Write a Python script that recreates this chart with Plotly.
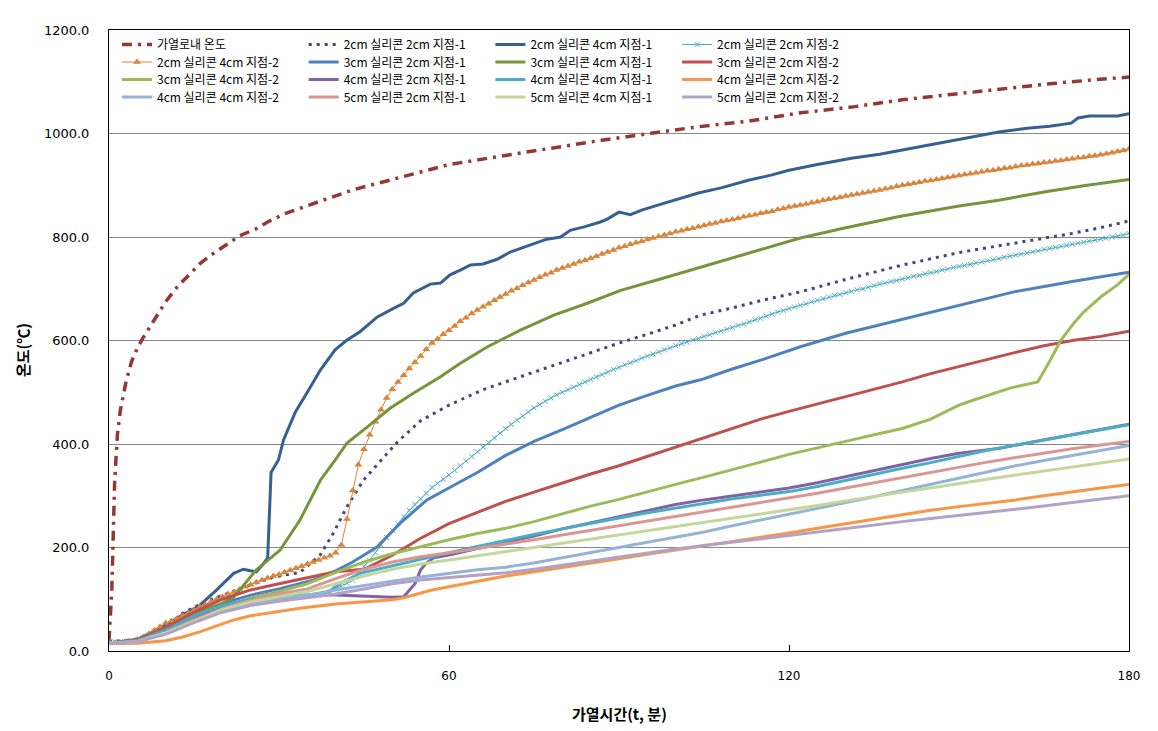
import plotly.graph_objects as go

# ---------------- data (minutes, deg C) ----------------
t5 = list(range(0, 181, 5))
t1 = list(range(0, 181))

names = [
    "가열로내 온도", "2cm 실리콘 2cm 지점-1", "2cm 실리콘 4cm 지점-1", "2cm 실리콘 2cm 지점-2",
    "2cm 실리콘 4cm 지점-2", "3cm 실리콘 2cm 지점-1", "3cm 실리콘 4cm 지점-1", "3cm 실리콘 2cm 지점-2",
    "3cm 실리콘 4cm 지점-2", "4cm 실리콘 2cm 지점-1", "4cm 실리콘 4cm 지점-1", "4cm 실리콘 2cm 지점-2",
    "4cm 실리콘 4cm 지점-2", "5cm 실리콘 2cm 지점-1", "5cm 실리콘 4cm 지점-1", "5cm 실리콘 2cm 지점-2",
]

furnace_t = [0, 0.5, 1, 1.5, 2, 3, 4, 5, 6, 7, 8, 10, 12, 14, 16, 18, 20, 23, 26, 28, 31, 34, 38, 43,
             51, 60, 69, 78, 87, 96, 104, 113, 122, 131, 140, 149, 157, 166, 173, 180]
furnace_v = [20, 120, 330, 420, 465, 520, 560, 585, 605, 622, 640, 675, 703, 726, 748, 765, 780, 802,
             816, 829, 845, 857, 872, 891, 914, 940, 956, 972, 987, 1001, 1013, 1024, 1040, 1051, 1065,
             1076, 1086, 1096, 1103, 1109]

s2c2c1_t = [0, 5, 10, 13, 17, 21, 25, 29, 33.7, 37.3, 39.6, 42, 44.9, 47.9, 51, 55, 60, 62, 66, 72.6,
            80, 86.7, 90, 95, 100, 104.4, 110, 115, 122, 130, 139.7, 150, 159.7, 170, 175, 180]
s2c2c1_v = [18, 22, 45, 73, 95, 112, 128, 143, 152, 186, 228, 279, 330, 367, 405, 445, 475, 485, 505, 530,
            558, 583, 595, 612, 630, 649, 663, 677, 694, 718, 745, 770, 788, 807, 818, 831]

s2c4c1_t = [0, 5, 10, 13, 16, 19, 22, 23.7, 25, 26, 27, 28, 28.6, 29.9, 30.8, 32.9, 35, 37.3, 39.9, 42,
            44.3, 47.3, 50.2, 52, 53.7, 56.7, 58.5, 60.2, 62, 63.8, 66, 68.5, 70.8, 73, 75.6, 77, 79.7,
            81.4, 84, 86.7, 88, 90, 92, 94, 97, 100, 104, 108, 113, 117, 120, 125, 131, 136, 140, 145,
            149, 153, 157, 162, 166, 169.8, 171, 173, 178, 180]
s2c4c1_v = [15, 22, 50, 70, 88, 118, 150, 158, 155, 153, 165, 180, 345, 369, 408, 462, 500, 543, 582, 601,
            617, 645, 662, 672, 692, 709, 711, 727, 736, 746, 748, 757, 771, 780, 790, 795, 800,
            813, 820, 829, 835, 848, 843, 852, 862, 872, 885, 895, 910, 920, 929, 940, 952, 960, 968, 978,
            987, 995, 1003, 1010, 1014, 1020, 1030, 1034, 1034, 1038]

s2c2c2_v = [18, 18, 18, 19, 20, 22, 25, 28, 32, 36, 40,
            45, 50, 55, 60, 65, 69, 73, 77, 81, 85,
            87, 89, 91, 93, 95, 96, 97, 98, 99, 100,
            101, 102, 103, 104, 105, 106, 108, 110, 115, 120,
            125, 131, 137, 150, 163, 175, 190, 205, 219, 233,
            246, 259, 272, 283, 294, 305, 316, 324, 332, 340,
            349, 358, 367, 376, 385, 394, 403, 412, 421, 430,
            438, 446, 454, 462, 470, 476, 483, 489, 495, 500,
            505, 510, 515, 520, 525, 530, 534, 539, 544, 548,
            553, 557, 561, 566, 570, 574, 578, 582, 586, 590,
            594, 597, 601, 604, 608, 611, 615, 618, 622, 625,
            629, 632, 636, 640, 643, 647, 651, 655, 658, 662,
            665, 668, 671, 675, 678, 681, 684, 687, 689, 692,
            695, 698, 700, 703, 706, 709, 711, 714, 716, 719,
            721, 724, 726, 729, 731, 733, 736, 738, 741, 743,
            745, 747, 750, 752, 754, 756, 758, 761, 763, 765,
            767, 769, 771, 773, 776, 778, 780, 782, 784, 786,
            788, 790, 792, 794, 796, 798, 800, 802, 804, 807]

s2c4c2_v = [15, 15, 16, 17, 19, 22, 27, 33, 40, 47, 54,
            58, 63, 68, 73, 79, 85, 90, 95, 100, 105,
            110, 114, 119, 124, 128, 133, 137, 141, 145, 148,
            152, 156, 160, 164, 168, 172, 176, 180, 184, 190,
            205, 255, 310, 360, 390, 418, 443, 466, 489, 506,
            520, 533, 546, 558, 570, 583, 595, 603, 612, 620,
            628, 637, 644, 652, 659, 665, 671, 678, 684, 690,
            696, 701, 707, 712, 717, 722, 727, 731, 736, 740,
            744, 748, 752, 755, 759, 763, 767, 771, 775, 779,
            782, 786, 789, 792, 795, 798, 801, 804, 807, 810,
            812, 815, 817, 820, 822, 825, 827, 830, 832, 834,
            836, 839, 841, 843, 846, 848, 850, 853, 855, 858,
            860, 862, 864, 866, 868, 871, 873, 875, 877, 879,
            881, 883, 885, 887, 889, 891, 893, 895, 898, 900,
            902, 904, 906, 908, 909, 911, 913, 915, 917, 919,
            921, 922, 924, 926, 928, 929, 931, 933, 934, 936,
            938, 939, 941, 942, 944, 945, 947, 948, 950, 951,
            953, 954, 956, 957, 959, 961, 963, 965, 967, 970]

s3c2c1_t = [0, 5, 10, 15, 20, 25, 30, 36, 40, 43, 47.3, 51.4, 56.1, 60, 65, 70, 75, 80, 85, 90, 95, 100,
            104.4, 110, 115, 122, 130, 139.7, 150, 159.7, 170, 180]
s3c2c1_v = [15, 22, 45, 72, 92, 108, 120, 137, 155, 172, 201, 247, 292, 315, 345, 378, 405, 428, 452, 475,
            494, 512, 524, 545, 562, 588, 614, 640, 668, 694, 714, 732]

s3c4c1_t = [0, 5, 10, 15, 20, 22, 26, 30.2, 33.7, 37.3, 39.9, 42, 45.6, 49.6, 53.7, 58.5, 62, 66.8, 72.6,
            78.5, 84.4, 90.3, 97, 104.4, 110, 115, 122, 130, 139.7, 150, 157, 165, 172, 180]
s3c4c1_v = [15, 22, 45, 70, 92, 104, 157, 195, 253, 330, 369, 402, 433, 469, 498, 530, 556, 588, 620,
            649, 672, 697, 718, 742, 760, 776, 798, 818, 840, 860, 871, 887, 899, 911]

s3c2c2_v = [15, 22, 45, 75, 100, 118, 130, 142, 153, 158, 185, 218, 246, 268, 289, 307, 325, 342, 358,
            376, 395, 412, 430, 448, 463, 477, 492, 506, 520, 536, 550, 564, 577, 590, 600, 608, 618]

s3c4c2_t = [0, 5, 10, 15, 20, 25, 30, 35, 40, 45, 50, 55, 60, 65, 70, 75, 80, 85, 90, 95, 100, 105, 110,
            115, 120, 125, 130, 135, 140, 145, 150, 152.6, 159, 163.9, 166, 168, 170.3, 172, 175, 178, 180]
s3c4c2_v = [15, 20, 40, 65, 85, 102, 115, 130, 152, 172, 188, 202, 215, 227, 237, 250, 265, 280, 293, 308,
            322, 336, 350, 365, 380, 392, 405, 418, 430, 448, 475, 485, 508, 520, 560, 601, 634, 655, 684,
            708, 728]

s4c2c1_t = [0, 5, 10, 15, 20, 25, 30, 35, 40, 45, 50, 52, 54, 55, 56, 57.3, 60.2, 65, 70, 75, 80, 85, 90,
            95, 100, 105, 110, 115, 120, 125, 130, 135, 140, 145, 150, 157.4, 163, 170, 175, 180]
s4c2c1_v = [15, 20, 40, 65, 85, 97, 105, 108, 108, 106, 104, 105, 130, 157, 170, 180, 186, 198, 210, 222,
            236, 248, 260, 272, 283, 292, 300, 308, 315, 325, 337, 348, 360, 372, 382, 392, 404, 418, 428,
            438]

s4c4c1_t = [0, 5, 10, 15, 20, 25, 30, 35, 38.5, 40.8, 44.3, 50, 55, 60, 65, 70, 75, 80, 85, 90, 95, 100,
            105, 110, 115, 120, 125, 130, 135, 140, 145, 150, 155, 160, 165, 170, 175, 180]
s4c4c1_v = [15, 20, 40, 68, 88, 100, 106, 108, 112, 131, 150, 165, 178, 190, 202, 214, 225, 236, 247, 257,
            267, 276, 285, 294, 301, 308, 318, 330, 342, 353, 364, 376, 388, 398, 408, 418, 427, 437]

s4c2c2_t = [0, 5, 10, 13, 16, 19, 22, 25, 30, 34, 40, 45, 50, 52, 55, 57, 60, 65, 70, 75, 80, 85, 90, 95,
            100, 105, 110, 115, 120, 125, 130, 135, 140, 145, 150, 155, 160, 165, 170, 175, 180]
s4c2c2_v = [14, 15, 20, 27, 37, 48, 60, 68, 77, 83, 91, 95, 99, 103, 112, 118, 124, 135, 145, 153, 161,
            170, 178, 187, 195, 203, 211, 220, 228, 237, 246, 255, 264, 272, 279, 285, 292, 300, 308, 315,
            322]

s4c4c2_v = [15, 18, 35, 58, 78, 92, 100, 108, 118, 127, 135, 143, 150, 157, 162, 170, 180, 190, 200, 210,
            220, 230, 242, 253, 265, 276, 287, 298, 310, 322, 334, 346, 358, 368, 378, 388, 397]
s5c2c1_v = [15, 18, 35, 60, 82, 98, 110, 120, 140, 158, 172, 182, 190, 198, 206, 215, 224, 233, 242, 251,
            260, 268, 277, 286, 295, 305, 315, 325, 336, 346, 356, 365, 374, 383, 391, 398, 405]
s5c4c1_v = [15, 18, 35, 58, 80, 95, 105, 115, 130, 145, 158, 168, 176, 184, 192, 200, 208, 216, 224, 232,
            240, 249, 257, 265, 272, 281, 290, 299, 307, 315, 324, 332, 340, 348, 356, 364, 371]
s5c2c2_v = [15, 18, 32, 55, 75, 88, 96, 103, 110, 120, 130, 137, 142, 147, 151, 158, 166, 174, 182, 190,
            197, 204, 210, 217, 223, 230, 237, 244, 250, 256, 262, 267, 273, 280, 287, 294, 300]

x_ticks = [0, 60, 120, 180]
y_ticks = [0, 200, 400, 600, 800, 1000, 1200]
x_title = "가열시간(t, 분)"
y_title = "온도(℃)"

xs = [furnace_t, s2c2c1_t, s2c4c1_t, t1, t1, s3c2c1_t, s3c4c1_t, t5,
      s3c4c2_t, s4c2c1_t, s4c4c1_t, s4c2c2_t, t5, t5, t5, t5]
ys = [furnace_v, s2c2c1_v, s2c4c1_v, s2c2c2_v, s2c4c2_v, s3c2c1_v, s3c4c1_v, s3c2c2_v,
      s3c4c2_v, s4c2c1_v, s4c4c1_v, s4c2c2_v, s4c4c2_v, s5c2c1_v, s5c4c1_v, s5c2c2_v]

# ---------------- styles ----------------
colors = ["#953735", "#46457F", "#376092", "#4BACC6",
          "#D9853B", "#4F81BD", "#77933C", "#C0504D",
          "#9BBB59", "#8064A2", "#4BACC6", "#F79646",
          "#95B3D7", "#D99694", "#C3D69B", "#B3A2C7"]
widths = [3.5, 3, 3, 1, 1, 3, 3, 3, 3, 3, 3, 3, 3, 3, 3, 3]
dashes = ["10px,6px,3px,6px", "3px,5px"] + ["solid"] * 14

legend_ids = ["legend", "legend2", "legend3", "legend4"]
row_y_px = [44.5, 62, 79.5, 97]

W, H = 1158, 731
L, R, T, B = 109, 29, 30, 80
pw, ph = W - L - R, H - T - B

fig = go.Figure()
for i, name in enumerate(names):
    mode = "lines"
    marker = None
    if i == 3:
        mode = "lines+markers"
        marker = dict(symbol="x-thin", size=5, color=colors[i], line=dict(width=1, color=colors[i]))
    elif i == 4:
        mode = "lines+markers"
        marker = dict(symbol="triangle-up", size=7, color=colors[i], line=dict(width=0))
    fig.add_trace(go.Scatter(
        x=xs[i], y=ys[i], name=name, mode=mode, marker=marker,
        line=dict(color=colors[i], width=widths[i], dash=dashes[i]),
        legend=legend_ids[i // 4],
    ))

leg_font = dict(family="Noto Sans CJK KR", size=12, color="black")
legends = {}
for k, lid in enumerate(legend_ids):
    legends[lid] = dict(
        orientation="h", x=(117 - L) / pw, xanchor="left",
        y=(H - B - row_y_px[k]) / ph, yanchor="middle",
        entrywidth=141.7, entrywidthmode="pixels", itemwidth=30,
        font=leg_font, bgcolor="rgba(0,0,0,0)", borderwidth=0, traceorder="normal",
    )

fig.update_layout(
    width=W, height=H,
    margin=dict(l=L, r=R, t=T, b=B, autoexpand=False),
    paper_bgcolor="white", plot_bgcolor="white",
    showlegend=True,
    **legends,
    xaxis=dict(
        range=[0, 180], tickvals=x_ticks, ticktext=[str(v) for v in x_ticks],
        showgrid=False, zeroline=False, showline=True, linecolor="black", linewidth=1, mirror=True,
        ticks="inside", ticklen=6, tickcolor="black", ticklabelstandoff=14,
        tickfont=dict(family="DejaVu Sans", size=12, color="black"),
    ),
    yaxis=dict(
        range=[0, 1200], tickvals=y_ticks, tickformat=".1f",
        showgrid=True, gridcolor="#868686", gridwidth=1, zeroline=False,
        showline=True, linecolor="black", linewidth=1, mirror=True,
        ticks="", ticklabelstandoff=16,
        tickfont=dict(family="DejaVu Sans", size=13, color="black"),
    ),
    annotations=[
        dict(text="<b>" + x_title + "</b>", xref="paper", yref="paper", x=0.5,
             y=(H - B - 713) / ph, xanchor="center", yanchor="middle", showarrow=False,
             font=dict(family="Noto Sans CJK KR", size=15, color="black")),
        dict(text="<b>" + y_title + "</b>", xref="paper", yref="paper", x=(22 - L) / pw,
             y=(H - B - 350) / ph, xanchor="center", yanchor="middle", showarrow=False, textangle=-90,
             font=dict(family="Noto Sans CJK KR", size=15, color="black")),
    ],
)

fig.write_html("out.html")
